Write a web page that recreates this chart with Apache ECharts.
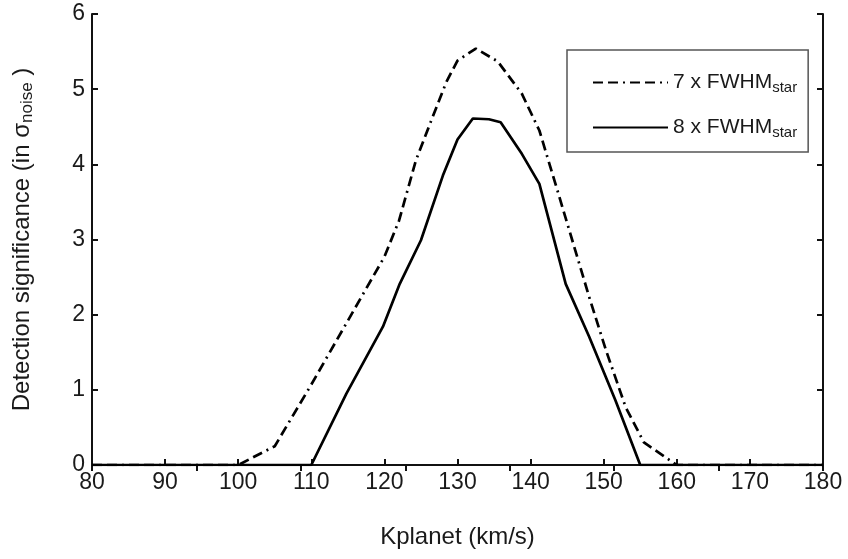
<!DOCTYPE html>
<html><head><meta charset="utf-8">
<script src="https://cdn.jsdelivr.net/npm/echarts@6/dist/echarts.min.js"></script>
<style>html,body{margin:0;padding:0;background:#fff}#c{width:848px;height:559px}</style>
</head><body><div id="c"></div>
<script>
const xTicks = [80, 90, 100, 110, 120, 130, 140, 150, 160, 170, 180];
const yTicks = [0, 1, 2, 3, 4, 5, 6];
const seriesNames = ['7 x FWHM{sub|star}', '8 x FWHM{sub|star}'];
const kp7 = [80, 100, 105, 110, 115, 120, 122, 124.3, 126.6, 128.5, 130, 132.5, 135.5, 138.8, 141.2, 143.4, 145.7, 148, 150.3, 153, 155.5, 160, 180];
const sig7 = [0, 0, 0.25, 1.07, 1.92, 2.77, 3.25, 4.05, 4.63, 5.1, 5.38, 5.54, 5.37, 4.94, 4.45, 3.74, 2.99, 2.24, 1.53, 0.77, 0.3, 0, 0];
const kp8 = [80, 110, 114.8, 119.8, 122.1, 125, 128, 130, 132.1, 134.3, 135.9, 138.8, 141.2, 144.8, 148, 151.6, 155, 180];
const sig8 = [0, 0, 0.95, 1.84, 2.41, 2.99, 3.85, 4.33, 4.61, 4.6, 4.56, 4.14, 3.74, 2.41, 1.71, 0.86, 0, 0];

const font = 'Liberation Sans, Arial, sans-serif';
const txt = '#1a1a1a';
const chart = echarts.init(document.getElementById('c'));
const axisLine = {lineStyle: {color: '#111', width: 2}};
const tick = {show: true, inside: true, length: 6, lineStyle: {color: '#111', width: 2}};
chart.setOption({
  animation: false,
  grid: {left: 92, right: 25, top: 14, bottom: 94},
  legend: {
    left: 567, top: 50, orient: 'vertical',
    data: seriesNames,
    borderColor: '#555', borderWidth: 1.5,
    padding: [22, 11, 12, 25],
    itemWidth: 75, itemHeight: 22, itemGap: 22,
    itemStyle: {opacity: 0},
    textStyle: {color: txt, fontFamily: font, fontSize: 21,
      rich: {sub: {fontSize: 15, fontFamily: font, color: txt, padding: [10, 0, 0, 0]}}}
  },
  xAxis: [{
    type: 'value', min: xTicks[0], max: xTicks[xTicks.length - 1], interval: 10,
    axisLine: axisLine, splitLine: {show: false},
    axisTick: tick,
    axisLabel: {color: txt, fontFamily: font, fontSize: 23, margin: 6},
    name: 'Kplanet (km/s)', nameLocation: 'middle', nameGap: 60,
    nameTextStyle: {color: txt, fontFamily: font, fontSize: 24}
  }, {
    type: 'value', position: 'top', min: 0, max: 7, interval: 1,
    axisLine: Object.assign({show: true}, axisLine), splitLine: {show: false},
    axisTick: tick,
    axisLabel: {show: false}
  }],
  yAxis: [{
    type: 'value', min: yTicks[0], max: yTicks[yTicks.length - 1], interval: 1,
    axisLine: Object.assign({show: true}, axisLine), splitLine: {show: false},
    axisTick: tick,
    axisLabel: {color: txt, fontFamily: font, fontSize: 23, margin: 7},
    name: 'Detection significance (in σ{sub|noise} )', nameLocation: 'middle', nameGap: 56,
    nameTextStyle: {color: txt, fontFamily: font, fontSize: 24,
      rich: {sub: {fontSize: 17, fontFamily: font, color: txt, padding: [11, 0, 0, 0]}}}
  }, {
    type: 'value', position: 'right', min: 0, max: 6, interval: 1,
    axisLine: Object.assign({show: true}, axisLine), splitLine: {show: false},
    axisTick: tick,
    axisLabel: {show: false}
  }],
  series: [{
    name: seriesNames[0], type: 'line', showSymbol: false, symbol: 'none',
    data: kp7.map((k, i) => [k, sig7[i]]),
    lineStyle: {color: '#000', width: 2.7, type: [10, 5, 10, 5, 2, 5]},
    itemStyle: {color: '#000'}
  }, {
    name: seriesNames[1], type: 'line', showSymbol: false, symbol: 'none',
    data: kp8.map((k, i) => [k, sig8[i]]),
    lineStyle: {color: '#000', width: 2.7},
    itemStyle: {color: '#000'}
  }]
});
</script></body></html>
